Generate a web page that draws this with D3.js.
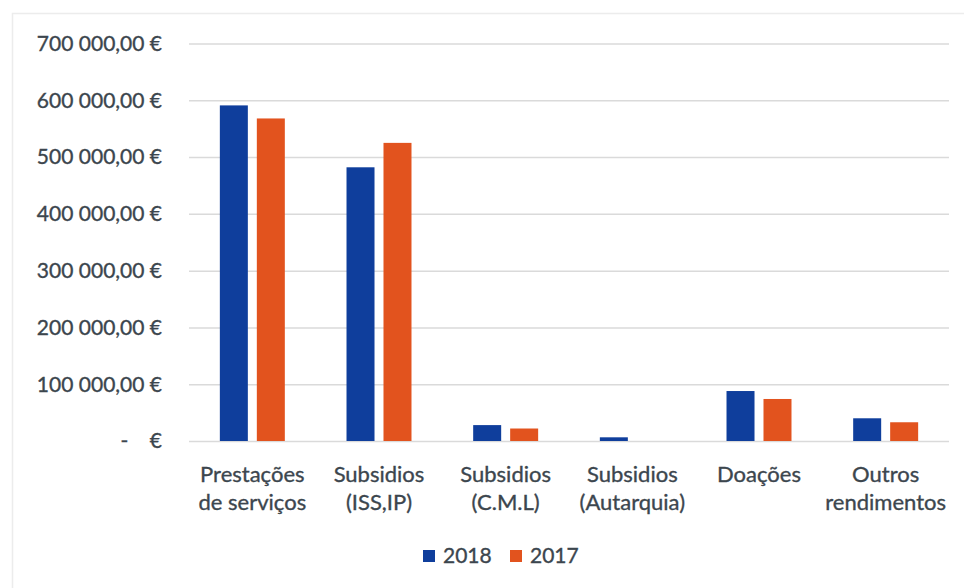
<!DOCTYPE html>
<html>
<head>
<meta charset="utf-8">
<script src="https://cdn.jsdelivr.net/npm/d3@7"></script>
<style>
  html, body { margin: 0; padding: 0; background: #ffffff; }
  svg { display: block; }
  text { font-family: Lato, "Open Sans", sans-serif; fill: #3c464e; stroke: #3c464e; stroke-width: 0.35px; }
</style>
</head>
<body>
<svg id="chart" width="964" height="588"></svg>
<script>
// Rendimentos por origem, 2018 vs 2017 (euros)
const categories = [
  ["Prestações", "de serviços"],
  ["Subsidios", "(ISS,IP)"],
  ["Subsidios", "(C.M.L)"],
  ["Subsidios", "(Autarquia)"],
  ["Doações"],
  ["Outros", "rendimentos"]
];
const series = ["2018", "2017"];
const values2018 = [591000, 482000, 28000, 6500, 88000, 40000];
const values2017 = [568000, 525000, 22000, 0, 74000, 33000];
const yTicks = [0, 100000, 200000, 300000, 400000, 500000, 600000, 700000];
const colors = { "2018": "#0f3e9c", "2017": "#e2531e" };

const svg = d3.select("#chart");
const W = 964, H = 588;
const plot = { left: 189, right: 949, top: 43.5, bottom: 441 };

// Faint outer frame of the chart area
svg.append("path")
  .attr("d", `M12.5,${H} V13.5 H${W}`)
  .attr("fill", "none")
  .attr("stroke", "#ececec")
  .attr("stroke-width", 1.5);

const catKeys = categories.map(c => c.join(" "));

const y = d3.scaleLinear().domain([0, 700000]).range([plot.bottom, plot.top]);

const x0 = d3.scaleBand()
  .domain(catKeys)
  .range([plot.left, plot.right])
  .paddingInner(0.487)
  .paddingOuter(0.2435);

const x1 = d3.scaleBand()
  .domain(series)
  .range([0, x0.bandwidth()])
  .paddingInner(0.243);

// Horizontal gridlines
const yAxis = d3.axisLeft(y)
  .tickValues(yTicks)
  .tickSize(-(plot.right - plot.left))
  .tickFormat("");
const gGrid = svg.append("g")
  .attr("transform", `translate(${plot.left},0)`)
  .call(yAxis);
gGrid.select(".domain").remove();
gGrid.selectAll(".tick line")
  .attr("stroke", "#dadada")
  .attr("stroke-width", 1.5);

// Y tick labels, accounting style
const fmt = v => {
  if (v === 0) return "-    €";
  const s = d3.format(",.2f")(v);
  return s.replace(/,/g, " ").replace(".", ",") + " €";
};
svg.append("g").selectAll("text")
  .data(yTicks)
  .join("text")
  .attr("x", 162)
  .attr("y", d => y(d))
  .attr("dy", "0.35em")
  .attr("text-anchor", "end")
  .style("white-space", "pre")
  .style("font-size", "21px")
  .text(fmt);

// Bars
const rows = catKeys.map((k, i) => ({ key: k, vals: { "2018": values2018[i], "2017": values2017[i] } }));
const gBars = svg.append("g");
rows.forEach(r => {
  series.forEach(s => {
    const v = r.vals[s];
    if (v <= 0) return;
    gBars.append("rect")
      .attr("x", x0(r.key) + x1(s))
      .attr("y", y(v))
      .attr("width", x1.bandwidth())
      .attr("height", y(0) - y(v))
      .attr("fill", colors[s]);
  });
});

// Category labels
const xAxis = d3.axisBottom(x0).tickSize(0).tickFormat("");
const gX = svg.append("g").attr("transform", `translate(0,${plot.bottom})`).call(xAxis);
gX.select(".domain").remove();
categories.forEach((lines, i) => {
  const cx = x0(catKeys[i]) + x0.bandwidth() / 2;
  const t = svg.append("text")
    .attr("text-anchor", "middle")
    .style("font-size", "22px");
  lines.forEach((ln, j) => {
    t.append("tspan").attr("x", cx).attr("y", 482 + j * 28).text(ln);
  });
});

// Legend
const legend = svg.append("g");
const legendX = [423, 510];
series.forEach((s, i) => {
  legend.append("rect")
    .attr("x", legendX[i]).attr("y", 550)
    .attr("width", 12).attr("height", 12)
    .attr("fill", colors[s]);
  legend.append("text")
    .attr("x", legendX[i] + 20).attr("y", 563)
    .style("font-size", "21px")
    .text(s);
});
</script>
</body>
</html>
